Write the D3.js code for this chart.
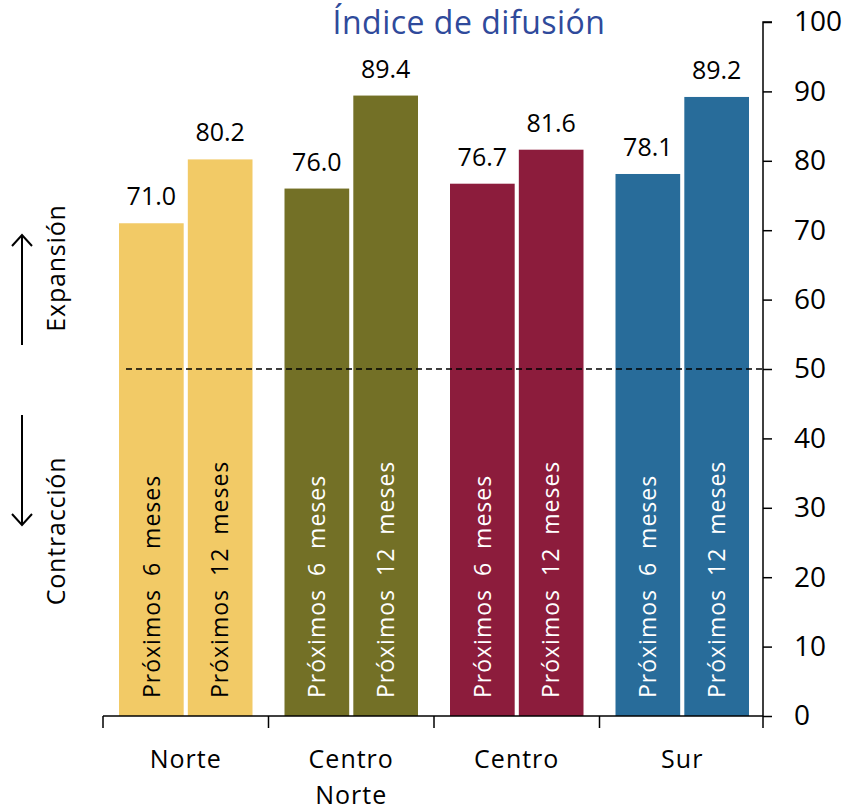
<!DOCTYPE html>
<html>
<head>
<meta charset="utf-8">
<script src="https://cdn.jsdelivr.net/npm/d3@7"></script>
<style>
  body { margin: 0; background: #fff; }
  text { font-family: "Open Sans", sans-serif; }
</style>
</head>
<body>
<div id="chart"></div>
<script>
// data
var regions = ['Norte', 'Centro Norte', 'Centro', 'Sur']
var series = ['Próximos 6 meses', 'Próximos 12 meses']
var seis = [71.0, 76.0, 76.7, 78.1]
var doce = [80.2, 89.4, 81.6, 89.2]
var colores = ['#f2ca66', '#737026', '#8c1c3c', '#286c9a']
var yTicks = [0, 10, 20, 30, 40, 50, 60, 70, 80, 90, 100]

var w = 852, h = 810

var svg = d3.select('#chart').append('svg')
  .attr('width', w)
  .attr('height', h)

var x0 = d3.scaleBand()
  .domain(regions)
  .range([103, 765])

var x1 = d3.scaleBand()
  .domain(series)
  .range([16, x0.bandwidth() - 16])
  .paddingInner(0.06)

var y = d3.scaleLinear()
  .domain([0, 100])
  .range([716, 22])

// title
svg.append('text')
  .attr('x', 469)
  .attr('y', 34)
  .attr('text-anchor', 'middle')
  .attr('font-size', 32)
  .attr('letter-spacing', 0.5)
  .attr('fill', '#2f4a9b')
  .text('Índice de difusión')

var data = []
regions.forEach(function(r, i) {
  data.push({ region: r, serie: series[0], valor: seis[i], color: colores[i], idx: i })
  data.push({ region: r, serie: series[1], valor: doce[i], color: colores[i], idx: i })
})

var bars = svg.selectAll('.bar')
  .data(data)
  .enter().append('g')
  .attr('class', 'bar')
  .attr('transform', function(d) { return 'translate(' + (x0(d.region) + x1(d.serie)) + ',0)' })

bars.append('rect')
  .attr('y', function(d) { return y(d.valor) })
  .attr('width', x1.bandwidth())
  .attr('height', function(d) { return y(0) - y(d.valor) })
  .attr('fill', function(d) { return d.color })

bars.append('text')
  .attr('x', x1.bandwidth() / 2)
  .attr('y', function(d) { return y(d.valor) - 18 })
  .attr('text-anchor', 'middle')
  .attr('font-size', 25)
  .attr('fill', '#000')
  .text(function(d) { return d.valor.toFixed(1) })

bars.append('text')
  .attr('transform', 'translate(' + (x1.bandwidth() / 2) + ',' + (y(0) - 18) + ') rotate(-90)')
  .attr('dy', '0.36em')
  .attr('font-size', 23)
  .attr('letter-spacing', 1)
  .attr('word-spacing', 6)
  .attr('fill', function(d) { return d.idx == 0 ? '#000' : '#fff' })
  .text(function(d) { return d.serie })

// dashed line at 50
svg.append('line')
  .attr('x1', 126)
  .attr('x2', 763)
  .attr('y1', y(50))
  .attr('y2', y(50))
  .attr('stroke', '#000')
  .attr('stroke-width', 1.5)
  .attr('stroke-dasharray', '6,4')

// x baseline with group boundary ticks
svg.append('line')
  .attr('x1', x0.range()[0])
  .attr('x2', 763)
  .attr('y1', y(0))
  .attr('y2', y(0))
  .attr('stroke', '#000')
  .attr('stroke-width', 1.5)

var bounds = regions.map(function(r) { return x0(r) })
bounds.push(763)
svg.selectAll('.xtick')
  .data(bounds)
  .enter().append('line')
  .attr('x1', function(d) { return d })
  .attr('x2', function(d) { return d })
  .attr('y1', y(0))
  .attr('y2', y(0) + 12)
  .attr('stroke', '#000')
  .attr('stroke-width', 1.5)

svg.selectAll('.xlabel')
  .data(regions)
  .enter().append('text')
  .attr('x', function(d) { return x0(d) + x0.bandwidth() / 2 })
  .attr('y', 768)
  .attr('text-anchor', 'middle')
  .attr('font-size', 25)
  .attr('letter-spacing', 1)
  .each(function(d) {
    var parts = d.split(' ')
    var t = d3.select(this)
    parts.forEach(function(p, i) {
      t.append('tspan')
        .attr('x', x0(d) + x0.bandwidth() / 2)
        .attr('dy', i == 0 ? 0 : 36)
        .text(p)
    })
  })

// right y axis
var yAxis = d3.axisRight(y)
  .tickValues(yTicks)
  .tickSize(9)
  .tickPadding(22)

var ga = svg.append('g')
  .attr('transform', 'translate(763,0)')
  .call(yAxis)
ga.select('.domain').attr('stroke-width', 1.5).attr('d', 'M9,' + y(100) + 'H0V' + y(0))
ga.selectAll('line').attr('stroke-width', 1.5)
ga.selectAll('text')
  .attr('font-size', 28)
  .attr('font-family', '"Open Sans", sans-serif')
  .attr('fill', '#000')

// expansion / contraction annotations
svg.append('defs').append('marker')
  .attr('id', 'head')
  .attr('viewBox', '0 0 14 22')
  .attr('refX', 12).attr('refY', 11)
  .attr('markerWidth', 14).attr('markerHeight', 22)
  .attr('markerUnits', 'userSpaceOnUse')
  .attr('orient', 'auto')
  .append('path')
  .attr('d', 'M1,1L12,11L1,21')
  .attr('fill', 'none')
  .attr('stroke', '#000')
  .attr('stroke-width', 2)

svg.append('line')
  .attr('x1', 22).attr('x2', 22)
  .attr('y1', 345).attr('y2', 235)
  .attr('stroke', '#000').attr('stroke-width', 2)
  .attr('marker-end', 'url(#head)')

svg.append('line')
  .attr('x1', 22).attr('x2', 22)
  .attr('y1', 415).attr('y2', 525)
  .attr('stroke', '#000').attr('stroke-width', 2)
  .attr('marker-end', 'url(#head)')

svg.append('text')
  .attr('transform', 'translate(56,268) rotate(-90)')
  .attr('text-anchor', 'middle')
  .attr('dy', '0.35em')
  .attr('font-size', 25)
  .attr('letter-spacing', 0.8)
  .text('Expansión')

svg.append('text')
  .attr('transform', 'translate(56,531) rotate(-90)')
  .attr('text-anchor', 'middle')
  .attr('dy', '0.35em')
  .attr('font-size', 25)
  .attr('letter-spacing', 0.8)
  .text('Contracción')
</script>
</body>
</html>
